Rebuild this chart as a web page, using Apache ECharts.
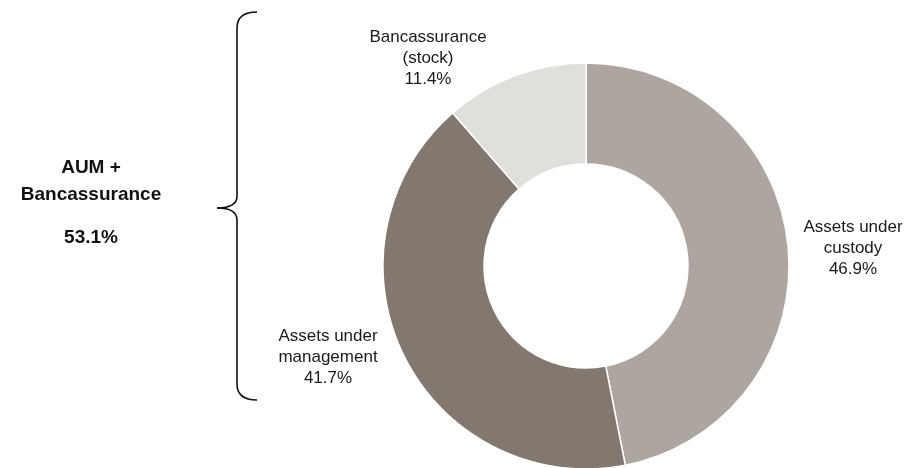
<!DOCTYPE html>
<html>
<head>
<meta charset="utf-8">
<script src="https://cdn.jsdelivr.net/npm/echarts@6/dist/echarts.min.js"></script>
<style>
  html, body { margin: 0; padding: 0; background: #fff; }
  #chart { width: 910px; height: 468px; }
</style>
</head>
<body>
<div id="chart"></div>
<script>
// data
const categories = ['Assets under\ncustody', 'Assets under\nmanagement', 'Bancassurance\n(stock)'];
const shares = [46.9, 41.7, 11.4];
const sliceColors = ['#ADA6A0', '#82786F', '#E0DFDB'];

const sideTitle = ['AUM +', 'Bancassurance'];
const sideValue = '53.1%';

// where each slice label sits (center of the text block)
const labelSpots = [[853, 248], [328, 357], [428, 58]];

const chart = echarts.init(document.getElementById('chart'));

const braceStyle = { fill: null, stroke: '#111', lineWidth: 1.6 };
const curve = (x1, y1, cx, cy, x2, y2) => ({
  type: 'bezierCurve',
  shape: { x1: x1, y1: y1, cpx1: cx, cpy1: cy, x2: x2, y2: y2 },
  style: braceStyle
});
const seg = (x1, y1, x2, y2) => ({
  type: 'line',
  shape: { x1: x1, y1: y1, x2: x2, y2: y2 },
  style: braceStyle
});

chart.setOption({
  animation: false,
  textStyle: { fontFamily: 'Liberation Sans, Arial, sans-serif' },
  series: [{
    type: 'pie',
    center: [586, 266],
    radius: [102, 203],
    startAngle: 90,
    clockwise: true,
    percentPrecision: 1,
    silent: true,
    itemStyle: { borderColor: '#fff', borderWidth: 1.5 },
    label: {
      show: true,
      position: 'outside',
      formatter: '{b}\n{d}%',
      color: '#1a1a1a',
      fontSize: 17,
      lineHeight: 21,
      align: 'center',
      overflow: 'none'
    },
    labelLine: { show: false },
    labelLayout: (params) => ({
      x: labelSpots[params.dataIndex][0],
      y: labelSpots[params.dataIndex][1],
      align: 'center',
      verticalAlign: 'middle'
    }),
    data: categories.map((name, i) => ({
      name: name,
      value: shares[i],
      itemStyle: { color: sliceColors[i] }
    }))
  }],
  graphic: [
    {
      type: 'text',
      x: 91,
      y: 181,
      style: {
        text: sideTitle.join('\n'),
        align: 'center',
        verticalAlign: 'middle',
        font: 'bold 19px "Liberation Sans", Arial, sans-serif',
        lineHeight: 27,
        fill: '#111'
      }
    },
    {
      type: 'text',
      x: 91,
      y: 238,
      style: {
        text: sideValue,
        align: 'center',
        verticalAlign: 'middle',
        font: 'bold 19px "Liberation Sans", Arial, sans-serif',
        fill: '#111'
      }
    },
    curve(257, 12, 237, 12, 237, 28),
    seg(237, 28, 237, 196),
    curve(237, 196, 237, 208, 217, 208),
    curve(217, 208, 237, 208, 237, 220),
    seg(237, 220, 237, 384),
    curve(237, 384, 237, 400, 257, 400)
  ]
});
</script>
</body>
</html>
